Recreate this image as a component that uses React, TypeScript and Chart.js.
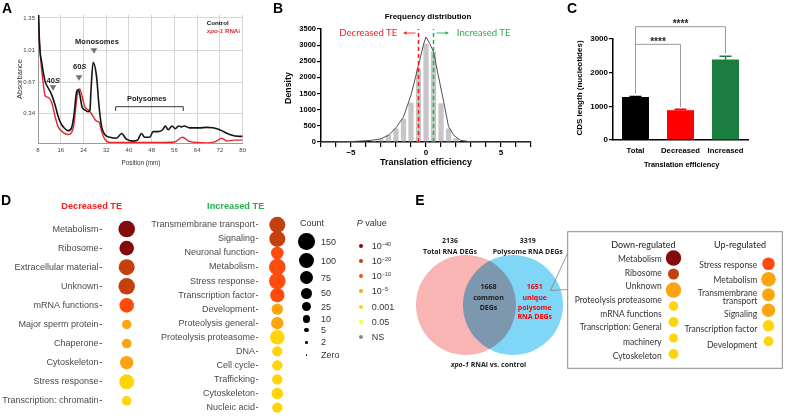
import React, { useEffect, useRef } from 'react';
import { Chart, registerables } from 'chart.js';

Chart.register(...registerables);

const ARIAL = "'Liberation Sans', Arial, sans-serif";
const CAL = "Lato, 'Open Sans', sans-serif";
const VENNF = "'Open Sans', Lato, sans-serif";
Chart.defaults.font.family = ARIAL;
Chart.defaults.color = '#000';

// ---------------- DATA ----------------
// A: polysome profiles (position mm, absorbance)
const ctrlPos = [8.1, 8.6, 9.3, 10.5, 11.6, 12.8, 14.0, 15.1, 16.0, 16.9, 18.6, 19.8, 20.6, 21.6, 22.2, 22.7, 23.5, 24.5, 25.7, 26.3, 26.6, 27.4, 28.6, 29.5, 30.4, 31.5, 33.3, 35.6, 37.4, 39.1, 41.4, 43.0, 44.4, 45.5, 47.3, 48.5, 50.2, 51.9, 52.8, 53.8, 55.2, 56.3, 57.5, 58.5, 59.5, 61.3, 64.9, 67.3, 69.5, 71.9, 75.4, 78.9, 80];
const ctrlAbs = [1.45, 1.05, 0.88, 0.68, 0.61, 0.54, 0.43, 0.31, 0.24, 0.2, 0.16, 0.19, 0.31, 0.57, 0.59, 0.54, 0.41, 0.38, 0.36, 0.38, 0.56, 0.88, 0.73, 0.41, 0.2, 0.12, 0.09, 0.08, 0.13, 0.07, 0.05, 0.06, 0.13, 0.09, 0.09, 0.15, 0.15, 0.17, 0.21, 0.17, 0.21, 0.18, 0.21, 0.2, 0.21, 0.19, 0.19, 0.195, 0.19, 0.17, 0.12, 0.1, 0.1];
const rnaiPos = [8.1, 8.5, 9.3, 10.0, 10.5, 11.6, 12.8, 14.0, 15.1, 16.9, 18.6, 19.8, 20.6, 21.6, 22.2, 22.7, 23.5, 24.5, 25.7, 26.3, 27.4, 28.6, 29.5, 30.4, 31.5, 33.3, 40, 50, 56, 58.8, 61, 64, 67.3, 70.8, 72.5, 74.6, 77, 80];
const rnaiAbs = [1.45, 1.1, 0.8, 0.62, 0.53, 0.51, 0.46, 0.31, 0.2, 0.14, 0.12, 0.14, 0.22, 0.49, 0.59, 0.6, 0.52, 0.41, 0.38, 0.36, 0.31, 0.26, 0.25, 0.15, 0.07, 0.035, 0.035, 0.035, 0.04, 0.09, 0.05, 0.035, 0.03, 0.05, 0.08, 0.05, 0.06, 0.06];
const absTicks = [0.34, 0.67, 1.01, 1.35];

// B: translation efficiency distribution
const teBins = [-4, -3.5, -3, -2.5, -2, -1.5, -1, -0.5, 0, 0.5, 1, 1.5, 2];
const teCounts = [15, 35, 80, 220, 420, 720, 1220, 2270, 3050, 2800, 1200, 420, 120];
const densityX = [-7, -6, -5, -4.5, -4, -3.5, -3, -2.5, -2, -1.5, -1, -0.5, -0.15, 0, 0.25, 0.5, 0.8, 1.2, 1.5, 1.85, 2.3, 3, 4, 7];
const densityY = [0, 5, 15, 25, 40, 60, 100, 210, 440, 780, 1450, 2380, 3050, 3250, 3050, 2800, 2100, 1200, 480, 210, 50, 5, 0, 0];
const teCutoffs = [-0.5, 0.5];

// C: CDS length
const cdsGroups = ['Total', 'Decreased', 'Increased'];
const cdsMean = [1280, 885, 2390];
const cdsSem = [15, 25, 100];
const sigPairs = [[0, 1], [0, 2]];
const sigLevel = [2842, 3365];
const sigText = ['****', '****'];

// D: GO-like categories
const decTerms = ['Metabolism', 'Ribosome', 'Extracellular material', 'Unknown', 'mRNA functions', 'Major sperm protein', 'Chaperone', 'Cytoskeleton', 'Stress response', 'Transcription: chromatin'];
const decCounts = [150, 90, 125, 150, 90, 25, 28, 75, 95, 27];
const decP = ['1e-40', '1e-40', '1e-20', '1e-20', '1e-10', '1e-5', '1e-5', '1e-5', '0.001', '0.001'];
const incTerms = ['Transmembrane transport', 'Signaling', 'Neuronal function', 'Metabolism', 'Stress response', 'Transcription factor', 'Development', 'Proteolysis general', 'Proteolysis proteasome', 'DNA', 'Cell cycle', 'Trafficking', 'Cytoskeleton', 'Nucleic acid'];
const incCounts = [125, 125, 65, 150, 150, 87, 50, 62, 90, 37, 37, 37, 52, 37];
const incP = ['1e-20', '1e-20', '1e-10', '1e-10', '1e-10', '1e-10', '1e-5', '1e-5', '0.001', '0.001', '0.001', '0.001', '0.001', '0.001'];
const sizeLegendCounts = [150, 100, 75, 50, 25, 10, 5, 2, 0];
const sizeLegendLabels = ['150', '100', '75', '50', '25', '10', '5', '2', 'Zero'];
const pLegend = ['1e-40', '1e-20', '1e-10', '1e-5', '0.001', '0.05', 'NS'];

// E: Venn + enriched categories
const vennSets = ['Total RNA DEGs', 'Polysome RNA DEGs'];
const vennTotals = [2136, 3319];
const vennCommon = 1668;
const vennUniquePolysome = 1651;
const downTerms = ['Metabolism', 'Ribosome', 'Unknown', 'Proteolysis proteasome', 'mRNA functions', 'Transcription: General|machinery', 'Cytoskeleton'];
const downCounts = [100, 45, 100, 25, 30, 21, 30];
const downP = ['1e-40', '1e-20', '1e-5', '0.001', '0.001', '0.001', '0.001'];
const upTerms = ['Stress response', 'Metabolism', 'Transmembrane|transport', 'Signaling', 'Transcription factor', 'Development'];
const upCounts = [65, 90, 70, 75, 52, 30];
const upP = ['1e-10', '1e-5', '1e-5', '1e-5', '0.001', '0.001'];

// ---------------- STYLE ----------------
const pColors: Record<string, string> = {
  '1e-40': '#840b0b', '1e-20': '#c6400e', '1e-10': '#ff4b0c', '1e-5': '#fca511',
  '0.001': '#ffd50a', '0.05': '#ffff1a', NS: '#8a8a8a',
};
const sizeRadius = [8.3, 7.7, 6.7, 5.7, 4.7, 3.7, 2.3, 1.3, 0.7];
function countToRadius(c: number) {
  const cs = [...sizeLegendCounts].reverse();
  const rs = [...sizeRadius].reverse();
  if (c <= cs[0]) return rs[0];
  for (let i = 1; i < cs.length; i++) {
    if (c <= cs[i]) return rs[i - 1] + ((c - cs[i - 1]) / (cs[i] - cs[i - 1])) * (rs[i] - rs[i - 1]);
  }
  return rs[rs.length - 1];
}
const cdsColors = ['#000000', '#ff0000', '#1b7d3f'];
const plain = (v: any) => String(v);

function base(extra: any) {
  return {
    responsive: false, maintainAspectRatio: false, animation: false, devicePixelRatio: 1, events: [],
    plugins: { legend: { display: false }, tooltip: { enabled: false }, title: { display: false } },
    ...extra,
  };
}

function configA() {
  return {
    type: 'line',
    data: {
      datasets: [
        { data: ctrlPos.map((x, i) => ({ x, y: ctrlAbs[i] })), borderColor: '#141414', borderWidth: 1.6, pointRadius: 0, cubicInterpolationMode: 'monotone' },
        { data: rnaiPos.map((x, i) => ({ x, y: rnaiAbs[i] })), borderColor: '#e3262b', borderWidth: 1.4, pointRadius: 0, cubicInterpolationMode: 'monotone' },
      ],
    },
    options: base({
      layout: { padding: { left: 0, top: 15, right: 7, bottom: 0 }, autoPadding: false },
      scales: {
        x: {
          type: 'linear', min: 8, max: 80, afterFit: (s: any) => { s.height = 27; },
          grid: { color: '#d6d6d6', drawTicks: false }, border: { color: '#9a9a9a' },
          ticks: { stepSize: 8, autoSkip: false, maxRotation: 0, color: '#444', font: { size: 6 }, padding: 4 },
        },
        y: {
          type: 'linear', min: 0.03, max: 1.38, afterFit: (s: any) => { s.width = 38; },
          afterBuildTicks: (s: any) => { s.ticks = absTicks.map((v) => ({ value: v })); },
          grid: { color: '#d6d6d6', drawTicks: false }, border: { color: '#9a9a9a' },
          ticks: { color: '#444', font: { size: 6 }, padding: 3, callback: (v: any) => Number(v).toFixed(2) },
        },
      },
    }),
  };
}

function configB() {
  const vline = (x: number, color: string) => ({
    type: 'line', data: [{ x, y: 0 }, { x, y: 3500 }], borderColor: color, borderWidth: 1.5,
    borderDash: [4, 3], pointRadius: 0, order: 0,
  });
  return {
    type: 'bar',
    data: {
      datasets: [
        vline(teCutoffs[0], '#ff1a1a'),
        vline(teCutoffs[1], '#22b24c'),
        { type: 'line', data: densityX.map((x, i) => ({ x, y: densityY[i] })), borderColor: '#505050', borderWidth: 1, pointRadius: 0, tension: 0, order: 1 },
        { type: 'bar', data: teBins.map((x, i) => ({ x, y: teCounts[i] })), backgroundColor: '#c6c6c6', barPercentage: 0.7, categoryPercentage: 1, order: 2 },
      ],
    },
    options: base({
      layout: { padding: { left: 0, top: 29, right: 9, bottom: 0 }, autoPadding: false },
      scales: {
        x: {
          type: 'linear', min: -7, max: 7, offset: false, afterFit: (s: any) => { s.height = 28; },
          grid: { offset: false, drawOnChartArea: false, drawTicks: true, tickLength: 5, color: '#000', lineWidth: 1.2 },
          border: { color: '#000', width: 1.5 },
          ticks: {
            stepSize: 1, autoSkip: false, maxRotation: 0, color: '#000', font: { size: 8, weight: 'bold' }, padding: 1,
            callback: (v: any) => (Math.round(v) % 5 === 0 ? (v < 0 ? '\u2212' + Math.abs(v) : String(v)) : ''),
          },
        },
        y: {
          min: 0, max: 3500, afterFit: (s: any) => { s.width = 61; },
          grid: { drawOnChartArea: false, drawTicks: true, tickLength: 4, color: '#000', lineWidth: 1.2 },
          border: { color: '#000', width: 1.5 },
          ticks: { stepSize: 500, color: '#000', font: { size: 7.5, weight: 'bold' }, padding: 1, callback: plain },
        },
      },
    }),
  };
}

const cdsExtras = {
  id: 'cdsExtras',
  afterDatasetsDraw(chart: any) {
    const { ctx } = chart;
    const xs = chart.scales.x;
    const ys = chart.scales.y;
    ctx.save();
    cdsMean.forEach((m, i) => {
      const px = xs.getPixelForValue(i);
      const y0 = ys.getPixelForValue(m);
      const y1 = ys.getPixelForValue(m + cdsSem[i]);
      ctx.strokeStyle = cdsColors[i];
      ctx.lineWidth = 1.5;
      ctx.beginPath();
      ctx.moveTo(px, y0); ctx.lineTo(px, y1);
      ctx.moveTo(px - 6, y1); ctx.lineTo(px + 6, y1);
      ctx.stroke();
    });
    ctx.strokeStyle = '#9a9a9a';
    ctx.lineWidth = 1;
    ctx.fillStyle = '#222';
    ctx.font = `bold 10px ${ARIAL}`;
    ctx.textAlign = 'center';
    ctx.textBaseline = 'alphabetic';
    sigPairs.forEach(([a, b], k) => {
      const xa = xs.getPixelForValue(a);
      const xb = xs.getPixelForValue(b);
      const yh = ys.getPixelForValue(sigLevel[k]);
      const ya = ys.getPixelForValue(cdsMean[a] + cdsSem[a]) - 3;
      const yb = ys.getPixelForValue(cdsMean[b] + cdsSem[b]) - 2.5;
      ctx.beginPath();
      ctx.moveTo(xa, ya); ctx.lineTo(xa, yh); ctx.lineTo(xb, yh); ctx.lineTo(xb, yb);
      ctx.stroke();
      ctx.fillText(sigText[k], (xa + xb) / 2, yh + 0.5);
    });
    ctx.restore();
  },
};

function configC() {
  return {
    type: 'bar',
    data: {
      labels: cdsGroups,
      datasets: [{ data: cdsMean, backgroundColor: cdsColors, barPercentage: 0.6, categoryPercentage: 1 }],
    },
    options: base({
      layout: { padding: { left: 0, top: 39, right: 37, bottom: 0 }, autoPadding: false },
      scales: {
        x: {
          afterFit: (s: any) => { s.height = 30; },
          grid: { display: false, drawTicks: false }, border: { color: '#000', width: 1.5 },
          ticks: { color: '#000', font: { size: 7.7, weight: 'bold' }, padding: 6, maxRotation: 0 },
        },
        y: {
          min: 0, max: 3000, afterFit: (s: any) => { s.width = 93; },
          grid: { drawOnChartArea: false, drawTicks: true, tickLength: 4, color: '#000', lineWidth: 1.2 },
          border: { color: '#000', width: 1.5 },
          ticks: { stepSize: 1000, color: '#000', font: { size: 8, weight: 'bold' }, padding: 1, callback: plain },
        },
      },
    }),
    plugins: [cdsExtras],
  };
}

function configDots(terms: string[], counts: number[], pv: string[], yWidth: number, pad: any, showLabels: boolean) {
  return {
    type: 'bubble',
    data: {
      datasets: [{
        data: terms.map((t, i) => ({ x: 0.5, y: t, r: countToRadius(counts[i]) })),
        backgroundColor: pv.map((p) => pColors[p]), borderWidth: 0, clip: false,
      }],
    },
    options: base({
      layout: { padding: pad, autoPadding: false },
      scales: {
        x: { type: 'linear', min: 0, max: 1, display: false },
        y: showLabels ? {
          type: 'category', labels: terms, offset: true, afterFit: (s: any) => { s.width = yWidth; },
          grid: { drawOnChartArea: false, drawTicks: true, tickLength: 2, color: '#666', offset: false },
          border: { display: false },
          ticks: { color: '#4a4a4a', font: { size: 9 }, padding: 1, autoSkip: false },
        } : { type: 'category', labels: terms, offset: true, display: false },
      },
    }),
  };
}

const multiplyPlugin = {
  id: 'multiply',
  beforeDatasetsDraw(c: any) { c.ctx.save(); c.ctx.globalCompositeOperation = 'multiply'; },
  afterDatasetsDraw(c: any) { c.ctx.restore(); },
};
const vennColors = ['#f9b4b4', '#80d6f7'];

function configVenn() {
  return {
    type: 'bubble',
    data: {
      datasets: vennSets.map((s, i) => ({
        label: s, data: [{ x: i, y: 0, r: 50 }], backgroundColor: vennColors[i], borderWidth: 0, clip: false,
      })),
    },
    options: base({
      layout: { padding: 0, autoPadding: false },
      scales: { x: { type: 'linear', min: -1.191, max: 2.426, display: false }, y: { type: 'linear', min: -1, max: 1, display: false } },
    }),
    plugins: [multiplyPlugin],
  };
}

// ---------------- COMPONENTS ----------------
function ChartBox({ left, top, width, height, make }: { left: number; top: number; width: number; height: number; make: () => any }) {
  const ref = useRef<HTMLCanvasElement | null>(null);
  useEffect(() => {
    if (!ref.current) return;
    const chart = new Chart(ref.current, make());
    return () => chart.destroy();
  }, []);
  return <canvas ref={ref} width={width} height={height} style={{ position: 'absolute', left, top, width, height }} />;
}

function T({ x, y, s = 9, w = 400, c = '#000', a = 'c', f = ARIAL, i = false, rot = false, children }: any) {
  const tx = a === 'l' ? '0' : a === 'r' ? '-100%' : '-50%';
  return (
    <div style={{
      position: 'absolute', left: x, top: y, transform: `translate(${tx},-50%)${rot ? ' rotate(-90deg)' : ''}`,
      fontSize: s, fontWeight: w, color: c, fontFamily: f, fontStyle: i ? 'italic' : 'normal', lineHeight: 1, whiteSpace: 'nowrap',
      fontVariantNumeric: 'lining-nums',
    }}>{children}</div>
  );
}

function Dot({ x, y, r, color }: { x: number; y: number; r: number; color: string }) {
  return <div style={{ position: 'absolute', left: x - r, top: y - r, width: 2 * r, height: 2 * r, borderRadius: '50%', background: color }} />;
}

function tri(cx: number, cy: number) {
  return `${cx - 3.3},${cy - 2.8} ${cx + 3.3},${cy - 2.8} ${cx},${cy + 2.8}`;
}

function pLabel(level: string) {
  if (level.startsWith('1e')) {
    return <>10<span style={{ fontSize: '0.62em', position: 'relative', top: '-0.55em' }}>{'\u2212' + level.slice(3)}</span></>;
  }
  return level;
}

export default function App() {
  const countY = [241.7, 260.7, 277.7, 293.3, 306.7, 319, 330, 342.3, 355];
  const pY = [246, 261, 276, 291.3, 306.7, 321.7, 336.7];
  const downLabelY = [258.7, 272.7, 285.7, 300, 314.3, 327.3, 356];
  const upLabelY = [264.7, 280.3, 293.3, 314, 329.3, 345];
  const EF = CAL;
  const VS = 7;
  return (
    <div style={{ position: 'absolute', left: 0, top: 0, width: 785, height: 419, overflow: 'hidden', background: '#fff' }}>
      <ChartBox left={0} top={0} width={250} height={170} make={configA} />
      <ChartBox left={260} top={0} width={280} height={170} make={configB} />
      <ChartBox left={520} top={0} width={265} height={170} make={configC} />
      <ChartBox left={0} top={200} width={160} height={219} make={() => configDots(decTerms, decCounts, decP, 101.5, { left: 0, top: 19.5, right: 8.1, bottom: 8.7 }, true)} />
      <ChartBox left={145} top={200} width={165} height={221} make={() => configDots(incTerms, incCounts, incP, 113, { left: 0, top: 17.8, right: 13.4, bottom: 0.8 }, true)} />
      <ChartBox left={410} top={240} width={170} height={130} make={configVenn} />
      <ChartBox left={653} top={250} width={41} height={112} make={() => configDots(downTerms, downCounts, downP, 0, { left: 0, top: 0, right: 0, bottom: 0 }, false)} />
      <ChartBox left={748} top={256} width={41} height={93} make={() => configDots(upTerms, upCounts, upP, 0, { left: 0, top: 0, right: 0, bottom: 0 }, false)} />

      <svg width={785} height={419} style={{ position: 'absolute', left: 0, top: 0 }}>
        <polygon points={tri(94, 51)} fill="#707070" />
        <polygon points={tri(79, 78)} fill="#707070" />
        <polygon points={tri(53, 88)} fill="#707070" />
        <path d="M115.7 111 L115.7 106.7 L183.3 106.7 L183.3 111" stroke="#222" strokeWidth={0.9} fill="none" />
        <line x1={405} y1={33} x2={415.5} y2={33} stroke="#ff1a1a" strokeWidth={0.9} />
        <polygon points="403,33 406.5,31.3 406.5,34.7" fill="#ff1a1a" />
        <line x1={436.5} y1={33} x2={447} y2={33} stroke="#22b24c" strokeWidth={0.9} />
        <polygon points="449,33 445.5,31.3 445.5,34.7" fill="#22b24c" />
        <rect x={567.7} y={231.7} width={214.6} height={136.6} stroke="#8c8c8c" strokeWidth={1} fill="none" />
        <line x1={550.5} y1={290.5} x2={567.7} y2={253} stroke="#808080" strokeWidth={0.8} />
        <line x1={550.5} y1={290.5} x2={567.7} y2={289.5} stroke="#808080" strokeWidth={0.8} />
      </svg>

      {/* Panel letters */}
      <T x={7} y={8} s={14} w={700}>A</T>
      <T x={278} y={8} s={14} w={700}>B</T>
      <T x={572} y={8} s={14} w={700}>C</T>
      <T x={6} y={200} s={14} w={700}>D</T>
      <T x={420} y={200} s={14} w={700}>E</T>

      {/* Panel A */}
      <T x={20} y={79} s={7.5} c="#333" rot>Absorbance</T>
      <T x={141} y={163} s={6.3} c="#333">Position (mm)</T>
      <T x={97} y={42.3} s={7.5} w={700} c="#222">Monosomes</T>
      <T x={79.7} y={67.3} s={7.5} w={700} c="#222">60<i>S</i></T>
      <T x={53.3} y={81} s={7.5} w={700} c="#222">40<i>S</i></T>
      <T x={146.7} y={99} s={7.5} w={700} c="#222">Polysomes</T>
      <T x={206.7} y={23.3} s={6.2} w={700} a="l" c="#111">Control</T>
      <T x={206.7} y={31} s={6.2} w={700} a="l" c="#e3262b"><i>xpo-1</i> RNAi</T>

      {/* Panel B */}
      <T x={428} y={17} s={8} w={700}>Frequency distribution</T>
      <T x={288} y={88} s={8.8} w={700} rot>Density</T>
      <T x={426} y={162} s={9} w={700}>Translation efficiency</T>
      <T x={368.3} y={33} s={9.6} f={CAL} c="#ff1a1a">Decreased TE</T>
      <T x={483.7} y={33} s={9.6} f={CAL} c="#22b24c">Increased TE</T>

      {/* Panel C */}
      <T x={580} y={87.5} s={8} w={700} rot>CDS length (nucleotides)</T>
      <T x={681.7} y={164.7} s={7.4} w={700}>Translation efficiency</T>

      {/* Panel D */}
      <T x={91.7} y={206.7} s={9.2} w={700} c="#ff1a1a">Decreased TE</T>
      <T x={235.7} y={206.7} s={9.2} w={700} c="#22b24c">Increased TE</T>
      <T x={300} y={222.7} s={9} a="l" c="#333">Count</T>
      {sizeLegendCounts.map((cnt, k) => (
        <React.Fragment key={'c' + k}>
          <Dot x={306.7} y={countY[k]} r={countToRadius(cnt)} color="#000" />
          <T x={321} y={countY[k]} s={9} a="l" c="#333">{sizeLegendLabels[k]}</T>
        </React.Fragment>
      ))}
      <T x={356.7} y={222.7} s={9} a="l" c="#333"><i>P</i> value</T>
      {pLegend.map((lv, k) => (
        <React.Fragment key={'p' + k}>
          <Dot x={360.7} y={pY[k]} r={2} color={pColors[lv]} />
          <T x={371.7} y={pY[k]} s={9} a="l" c="#333">{pLabel(lv)}</T>
        </React.Fragment>
      ))}

      {/* Panel E: Venn texts */}
      <T x={450} y={240} s={VS} w={700} f={VENNF} c="#222">{vennTotals[0]}</T>
      <T x={450} y={250.7} s={VS} w={700} f={VENNF} c="#222">{vennSets[0]}</T>
      <T x={527.7} y={240} s={VS} w={700} f={VENNF} c="#222">{vennTotals[1]}</T>
      <T x={527.7} y={250.7} s={VS} w={700} f={VENNF} c="#222">{vennSets[1]}</T>
      <T x={488.5} y={286} s={VS} w={700} f={VENNF} c="#1a1a1a">{vennCommon}</T>
      <T x={488.5} y={296.5} s={VS} w={700} f={VENNF} c="#1a1a1a">common</T>
      <T x={488.5} y={306.5} s={VS} w={700} f={VENNF} c="#1a1a1a">DEGs</T>
      <T x={534.7} y={286} s={VS} w={700} f={VENNF} c="#ff0000">{vennUniquePolysome}</T>
      <T x={534.7} y={296.5} s={VS} w={700} f={VENNF} c="#ff0000">unique</T>
      <T x={534.7} y={306.5} s={VS} w={700} f={VENNF} c="#ff0000">polysome</T>
      <T x={534.7} y={315.8} s={VS} w={700} f={VENNF} c="#ff0000">RNA DEGs</T>
      <T x={488.5} y={364} s={VS} w={700} f={VENNF} c="#222"><i>xpo-1</i> RNAi vs. control</T>

      {/* Panel E: box */}
      <T x={643.3} y={244} s={9} f={EF} c="#222">Down-regulated</T>
      <T x={740} y={244} s={9} f={EF} c="#222">Up-regulated</T>
      {downTerms.map((t, k) => {
        const parts = t.split('|');
        if (parts.length > 1) {
          return (
            <React.Fragment key={'d' + k}>
              <T x={661.7} y={downLabelY[k]} s={8.5} a="r" f={EF} c="#333">{parts[0]}</T>
              <T x={661.7} y={342} s={8.5} a="r" f={EF} c="#333">{parts[1]}</T>
            </React.Fragment>
          );
        }
        return <T key={'d' + k} x={661.7} y={downLabelY[k]} s={8.5} a="r" f={EF} c="#333">{t}</T>;
      })}
      {upTerms.map((t, k) => {
        const parts = t.split('|');
        if (parts.length > 1) {
          return (
            <React.Fragment key={'u' + k}>
              <T x={757.3} y={upLabelY[k]} s={8.5} a="r" f={EF} c="#333">{parts[0]}</T>
              <T x={757.3} y={300.7} s={8.5} a="r" f={EF} c="#333">{parts[1]}</T>
            </React.Fragment>
          );
        }
        return <T key={'u' + k} x={757.3} y={upLabelY[k]} s={8.5} a="r" f={EF} c="#333">{t}</T>;
      })}
    </div>
  );
}
